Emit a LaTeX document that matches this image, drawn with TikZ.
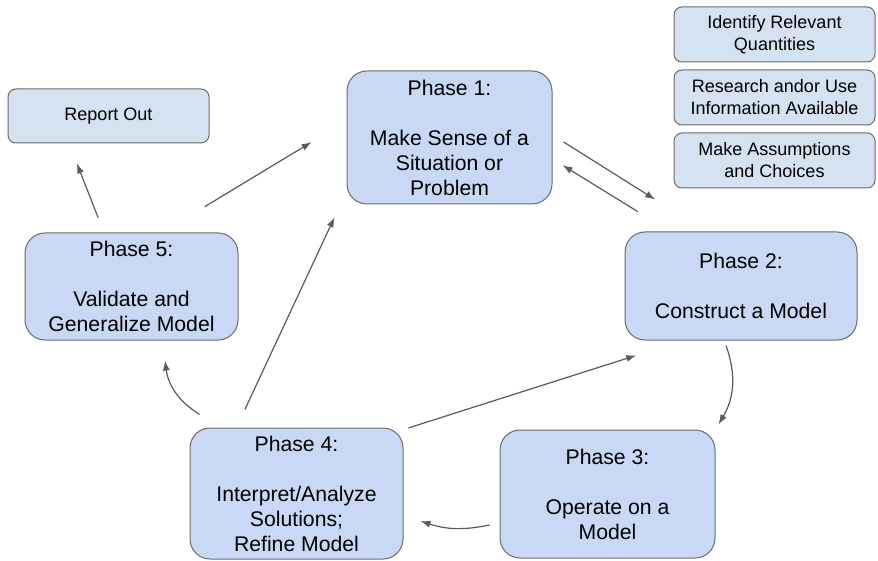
\documentclass[tikz,border=0pt]{standalone}
\usepackage{fontspec}
\setmainfont{Liberation Sans}
\usetikzlibrary{calc,arrows.meta}
\definecolor{phasefill}{HTML}{C9D8F5}
\definecolor{tagfill}{HTML}{D4E2F1}
\definecolor{edgegray}{HTML}{6B6B6B}
\definecolor{arrowgray}{HTML}{5A5A5A}
\begin{document}
\begin{tikzpicture}[x=0.5pt,y=-0.5pt,
    phase/.style={draw=edgegray, line width=0.5pt, fill=phasefill, rounded corners=10pt,
        align=center, inner sep=0pt, font=\fontsize{10.6}{12.5}\selectfont},
    tag/.style={draw=edgegray, line width=0.5pt, fill=tagfill, rounded corners=4pt,
        align=center, inner sep=0pt, minimum width=100.5pt, minimum height=27.5pt,
        font=\fontsize{9}{11}\selectfont},
    arr/.style={arrowgray, line width=0.6pt, -{Latex[length=5pt,width=3.5pt]}}]
    \useasboundingbox (0,0) rectangle (878,561);

    % 五个阶段
    \node[phase, minimum width=102.5pt, minimum height=66.5pt] (p1) at (449.5,137.5)
        {Phase 1:\\[12.5pt]Make Sense of a\\Situation or\\Problem};
    \node[phase, minimum width=116pt, minimum height=54pt] (p2) at (741,286)
        {Phase 2:\\[12.5pt]Construct a Model};
    \node[phase, minimum width=107.5pt, minimum height=64pt] (p3) at (607.5,494)
        {Phase 3:\\[12.5pt]Operate on a\\Model};
    \node[phase, minimum width=106.5pt, minimum height=65.5pt] (p4) at (296.5,493.5)
        {Phase 4:\\[12.5pt]Interpret/Analyze\\Solutions;\\Refine Model};
    \node[phase, minimum width=106.5pt, minimum height=53.5pt] (p5) at (131.5,286.5)
        {Phase 5:\\[12.5pt]Validate and\\Generalize Model};

    % 小标签
    \node[tag, minimum height=27pt] (rep) at (108.5,116) {Report Out};
    \node[tag] (idq) at (774.5,34.5) {Identify Relevant\\Quantities};
    \node[tag] (res) at (774.5,97.5) {Research andor Use\\Information Available};
    \node[tag] (mac) at (774.5,160.5) {Make Assumptions\\and Choices};

    % 直线箭头
    \draw[arr, shorten <=8pt, shorten >=10.7pt] ($(p5.north)+(-27.5,0)$) -- ($(rep.south)+(-39.5,0)$);
    \draw[arr, shorten <=25pt, shorten >=20.4pt] ($(p5.north)+(30.5,0)$) -- ($(p1.west)+(0,-16.5)$);
    \draw[arr, shorten <=6.5pt, shorten >=30pt] ($(p1.east)+(0,-2.5)$) -- ($(p2.north)+(-35,0)$);
    \draw[arr, shorten <=19pt, shorten >=5.9pt] ($(p2.north)+(-71,0)$) -- ($(p1.east)+(0,21.5)$);
    \draw[arr, shorten <=10pt, shorten >=14.2pt] ($(p4.north)+(-60,0)$) -- ($(p1.south west)+(0,-13)$);
    \draw[arr, shorten <=2.6pt, shorten >=24.5pt] ($(p4.north east)+(0,2)$) -- ($(p2.south)+(-58,0)$);

    % 弯曲箭头
    \draw[arr] ($(p2.south)+(-15,5)$) to[bend left=25] ($(p3.north east)+(3,-5)$);
    \draw[arr] ($(p3.west)+(-10,31)$) to[bend left=15] ($(p4.east)+(17,27.5)$);
    \draw[arr] ($(p4.north west)+(10,-13)$) to[bend left=25] ($(p5.south)+(33.5,20)$);
\end{tikzpicture}
\end{document}
